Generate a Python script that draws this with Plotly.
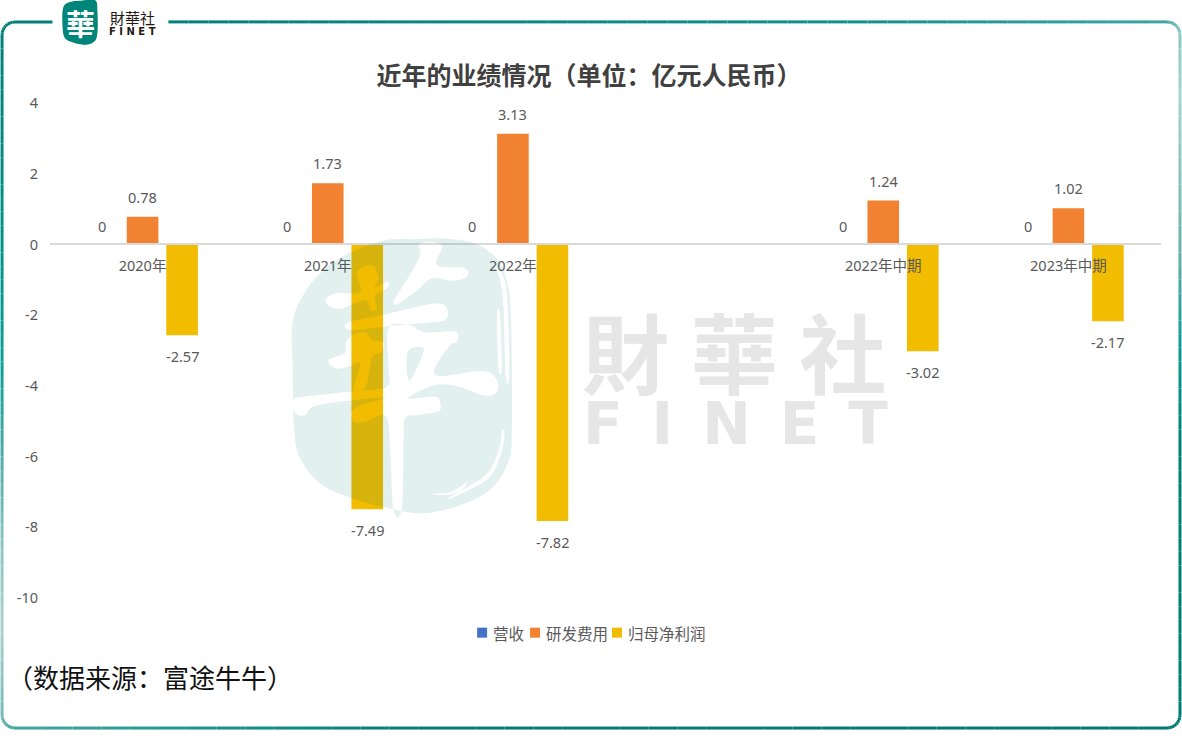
import math

import plotly.graph_objects as go

# ---- chart data (亿元人民币) ----
categories = ["2020年", "2021年", "2022年", " ", "2022年中期", "2023年中期"]
revenue = [0, 0, 0, None, 0, 0]
rd_expense = [0.78, 1.73, 3.13, None, 1.24, 1.02]
net_profit = [-2.57, -7.49, -7.82, None, -3.02, -2.17]

series_names = ["营收", "研发费用", "归母净利润"]
series_colors = ["#4472C4", "#F08232", "#F2BC00"]

y_ticks = [4, 2, 0, -2, -4, -6, -8, -10]
y_tick_text = ["4", "2", "0", "-2", "-4", "-6", "-8", "-10"]

title_text = "近年的业绩情况（单位：亿元人民币）"
source_text = "（数据来源：富途牛牛）"

# ---- page geometry ----
W, H = 1182, 750
PLOT_L, PLOT_R, PLOT_T, PLOT_B = 49.5, 1161.5, 102.7, 598.3
BAR_GAP = 0.36
GROUP_GAP = 0.2
FONT = "'Noto Sans', 'Noto Sans CJK SC', sans-serif"
CJK = "'Noto Sans CJK SC', sans-serif"
CJK_TC = "'Noto Sans CJK TC', sans-serif"
TEXT_GREY = "#595959"


def fx(px):
    return (px - PLOT_L) / (PLOT_R - PLOT_L)


def fy(py):
    return (PLOT_B - py) / (PLOT_B - PLOT_T)


def lerp_hex(a, b, t):
    ca = [int(a[i:i + 2], 16) for i in (1, 3, 5)]
    cb = [int(b[i:i + 2], 16) for i in (1, 3, 5)]
    return "#" + "".join(f"{round(x + (y - x) * t):02x}" for x, y in zip(ca, cb))


def ramp(stops, t):
    for (t0, c0), (t1, c1) in zip(stops, stops[1:]):
        if t <= t1:
            return lerp_hex(c0, c1, (t - t0) / (t1 - t0) if t1 > t0 else 0)
    return stops[-1][1]


def smooth_path(points, clockwise):
    """Closed Catmull-Rom outline in paper units, with a chosen winding."""
    area = sum(a[0] * b[1] - b[0] * a[1] for a, b in zip(points, points[1:] + points[:1]))
    if (area > 0) != clockwise:
        points = points[::-1]
    n = len(points)
    p = [(fx(x), fy(y)) for x, y in points]
    out = [f"M{p[0][0]:.5f},{p[0][1]:.5f}"]
    for i in range(n):
        p0, p1, p2, p3 = p[i - 1], p[i], p[(i + 1) % n], p[(i + 2) % n]
        c1 = (p1[0] + (p2[0] - p0[0]) / 6, p1[1] + (p2[1] - p0[1]) / 6)
        c2 = (p2[0] - (p3[0] - p1[0]) / 6, p2[1] - (p3[1] - p1[1]) / 6)
        out.append(f"C{c1[0]:.5f},{c1[1]:.5f} {c2[0]:.5f},{c2[1]:.5f} {p2[0]:.5f},{p2[1]:.5f}")
    return "".join(out) + "Z"


def seal_pts(pts, ox=285, oy=235, s=3.0):
    return [(ox + x / s, oy + y / s) for x, y in pts]


def page_text(px, py, text, family, size, color, anchor="center", weight=None):
    """Text placed by page pixel, centred vertically on py."""
    font = dict(family=family, size=size, color=color)
    if weight:
        font["weight"] = weight
    return dict(x=fx(px), y=fy(py), xref="paper", yref="paper", text=text, showarrow=False,
                xanchor=anchor, yanchor="middle", font=font)


# ---- watermark seal: tinted body with the brush character knocked out ----
seal_body = [(300, 15), (390, 12), (480, 10), (570, 25), (630, 65), (660, 120), (675, 200),
             (680, 350), (680, 600), (670, 680), (620, 760), (530, 810), (420, 835), (330, 825),
             (200, 790), (110, 750), (50, 680), (28, 600), (22, 400), (22, 260), (60, 170),
             (120, 100), (200, 50)]
seal_holes = [
    [(405, 25), (470, 30), (455, 90), (540, 100), (545, 125), (505, 137), (440, 130),
     (390, 170), (335, 208), (330, 190), (380, 110), (405, 60)],
    [(120, 195), (150, 175), (225, 170), (215, 110), (260, 90), (280, 130), (268, 155),
     (310, 140), (305, 160), (270, 180), (275, 220), (258, 225), (238, 195), (170, 220), (135, 215)],
    [(190, 262), (290, 240), (450, 205), (487, 225), (480, 255), (440, 262), (300, 275), (195, 285)],
    [(205, 298), (240, 292), (262, 315), (295, 322), (290, 350), (260, 368), (242, 455), (205, 462),
     (225, 385), (190, 395), (150, 400), (130, 375), (178, 355), (182, 322)],
    [(310, 280), (370, 270), (420, 292), (510, 290), (515, 320), (490, 335), (450, 420), (590, 408),
     (632, 430), (636, 470), (600, 482), (520, 455), (450, 450), (368, 490), (450, 485), (465, 505),
     (460, 530), (400, 540), (360, 550), (355, 620), (350, 822), (325, 826), (315, 650), (302, 545),
     (240, 560), (205, 560), (200, 530), (230, 510), (300, 488), (100, 510), (60, 540), (30, 535),
     (25, 495), (60, 485), (210, 468), (305, 455), (310, 400)],
    [(628, 90), (655, 125), (668, 210), (672, 420), (662, 420), (655, 210), (645, 135)],
    [(636, 240), (645, 240), (650, 400), (640, 400)],
    [(650, 590), (658, 590), (650, 650), (610, 730), (505, 787), (500, 783), (600, 722), (640, 650)],
    [(440, 778), (500, 770), (545, 742), (530, 765), (490, 780)],
]
seal_islands = [[(368, 350), (415, 340), (395, 400), (370, 436)]]

seal_d = smooth_path(seal_pts(seal_body), True)
seal_d += "".join(smooth_path(seal_pts(h), False) for h in seal_holes)
seal_d += "".join(smooth_path(seal_pts(h), True) for h in seal_islands)

shapes = [dict(type="path", xref="paper", yref="paper", path=seal_d, layer="above",
               fillcolor="rgba(0,122,112,0.115)", line=dict(width=0))]

# ---- small logo block in the frame gap ----
logo_body = [(62.5, 8), (68, 2), (82, 0), (95, 0), (97, 12), (97, 32), (94, 41), (85, 44.5),
             (72, 42), (64, 37), (62, 25)]
shapes.append(dict(type="path", xref="paper", yref="paper", layer="above",
                   path=smooth_path(logo_body, True), fillcolor="#00857A", line=dict(width=0)))

# ---- frame: a rounded rectangle whose colour drifts along its length ----
L, R, T, B, RAD = 1.5, 1180.5, 21.5, 728.5, 13
GAP_TOP_END = 168


def frame_segments():
    """Yield (x0, y0, x1, y1, colour) running along each side of the frame."""
    top_stops = [(0, "#00807a"), (0.6, "#0f918b"), (0.85, "#3aa39e"), (1, "#8fc8c3")]
    right_stops = [(0, "#8fc8c3"), (0.07, "#a9d3cf"), (0.26, "#6db2ae"), (0.39, "#109a92"),
                   (0.52, "#007f75"), (1, "#007a70")]
    left_stops = [(0, "#00807a"), (0.26, "#009187"), (0.42, "#0b9e97"), (0.52, "#45a8a4"),
                  (0.65, "#8cc4c1"), (0.76, "#a9d1cf"), (0.88, "#6fb6b3"), (1, "#3fa59f")]
    bottom_stops = [(0, "#3fa59f"), (0.2, "#0f8f88"), (0.35, "#007d73"), (1, "#007a70")]

    def run(pts, stops):
        for i, (a, b) in enumerate(zip(pts, pts[1:])):
            yield a[0], a[1], b[0], b[1], ramp(stops, i / (len(pts) - 2))

    def line(x0, y0, x1, y1, n):
        return [(x0 + (x1 - x0) * i / n, y0 + (y1 - y0) * i / n) for i in range(n + 1)]

    def arc(cx, cy, a0, a1, n=8):
        return [(cx + RAD * math.cos(math.radians(a0 + (a1 - a0) * i / n)),
                 cy + RAD * math.sin(math.radians(a0 + (a1 - a0) * i / n))) for i in range(n + 1)]

    yield from run(arc(L + RAD, T + RAD, 180, 270) + [(52, T)], [(0, "#007f76"), (1, "#007f76")])
    yield from run(line(GAP_TOP_END, T, R - RAD, T, 50) + arc(R - RAD, T + RAD, 270, 360)[1:], top_stops)
    yield from run(line(R, T + RAD, R, B - RAD, 50) + arc(R - RAD, B - RAD, 0, 90)[1:], right_stops)
    yield from run(line(L, T + RAD, L, B - RAD, 50) + arc(L + RAD, B - RAD, 180, 90)[1:], left_stops)
    yield from run(line(L + RAD, B, R - RAD, B, 40), bottom_stops)


for x0, y0, x1, y1, colour in frame_segments():
    shapes.append(dict(type="line", xref="paper", yref="paper", layer="above",
                       x0=fx(x0), y0=fy(y0), x1=fx(x1), y1=fy(y1),
                       line=dict(color=colour, width=3)))

# ---- bars ----
series_values = [revenue, rd_expense, net_profit]
fig = go.Figure()
for name, values, colour in zip(series_names, series_values, series_colors):
    fig.add_trace(go.Bar(x=categories, y=values, name=name, marker=dict(color=colour, line=dict(width=0))))

# ---- value labels sit a fixed distance beyond the bar end ----
annotations = []
slot = (1 - BAR_GAP) / 3
for k, values in enumerate(series_values):
    for i, v in enumerate(values):
        if v is None:
            continue
        shift = -21 if v < 0 else (18.5 if v == 0 else 20)
        annotations.append(dict(x=i + (k - 1) * slot, y=v, xref="x", yref="y", text=f"{v:g}",
                                showarrow=False, yshift=shift, xshift=-1 if k == 0 else 0,
                                font=dict(family=FONT, size=14.5, color=TEXT_GREY)))

# ---- watermark wordmark, logo text and source note ----
annotations += [
    page_text(735, 350, "財\u2005華\u2005社", CJK_TC, 87, "#E6E6E6", weight="bold"),
    page_text(736, 424, "F\u2002I\u2002N\u2002E\u2002T", "'DejaVu Sans', sans-serif", 58, "#E6E6E6", weight="bold"),
    page_text(80, 22.5, "華", CJK_TC, 29, "#FFFFFF", weight="bold"),
    page_text(132.5, 17, "財華社", CJK_TC, 15, "#231815"),
    page_text(132.5, 31, "F I N E T", "'DejaVu Sans', sans-serif", 10, "#231815", weight="bold"),
    page_text(4, 677, source_text, CJK, 26, "#111111", anchor="left"),
]

# ---- compact legend row: square swatch followed by the series name ----
legend_x = [477, 530, 612]
for name, colour, lx in zip(series_names, series_colors, legend_x):
    shapes.append(dict(type="rect", xref="paper", yref="paper", layer="above",
                       x0=fx(lx), x1=fx(lx + 10), y0=fy(628), y1=fy(638),
                       fillcolor=colour, line=dict(width=0)))
    annotations.append(page_text(lx + 14, 633, name, CJK, 15.5, TEXT_GREY, anchor="left"))

fig.update_layout(
    width=W, height=H,
    margin=dict(l=PLOT_L, r=W - PLOT_R, t=PLOT_T, b=H - PLOT_B, pad=0, autoexpand=False),
    paper_bgcolor="#FFFFFF", plot_bgcolor="rgba(0,0,0,0)",
    barmode="group", bargap=BAR_GAP, bargroupgap=GROUP_GAP,
    showlegend=False,
    title=dict(text=title_text, x=589 / W, xanchor="center", xref="container", y=1 - 76 / H, yanchor="middle",
               yref="container", font=dict(family=CJK, size=25, color="#404040", weight="bold")),
    xaxis=dict(type="category", categoryorder="array", categoryarray=categories,
               anchor="free", position=10 / 14, showline=True, linecolor="#D9D9D9", linewidth=1.5,
               showgrid=False, zeroline=False, ticks="", ticklabelstandoff=8,
               tickfont=dict(family=FONT, size=14.5, color=TEXT_GREY)),
    yaxis=dict(range=[-10, 4], tickvals=y_ticks, ticktext=y_tick_text, showgrid=False, showline=False,
               zeroline=False, ticks="", ticklabelstandoff=11,
               tickfont=dict(family=FONT, size=14.5, color=TEXT_GREY)),
    shapes=shapes,
    annotations=annotations,
)

fig.write_html("out.html", config=dict(displayModeBar=False))
